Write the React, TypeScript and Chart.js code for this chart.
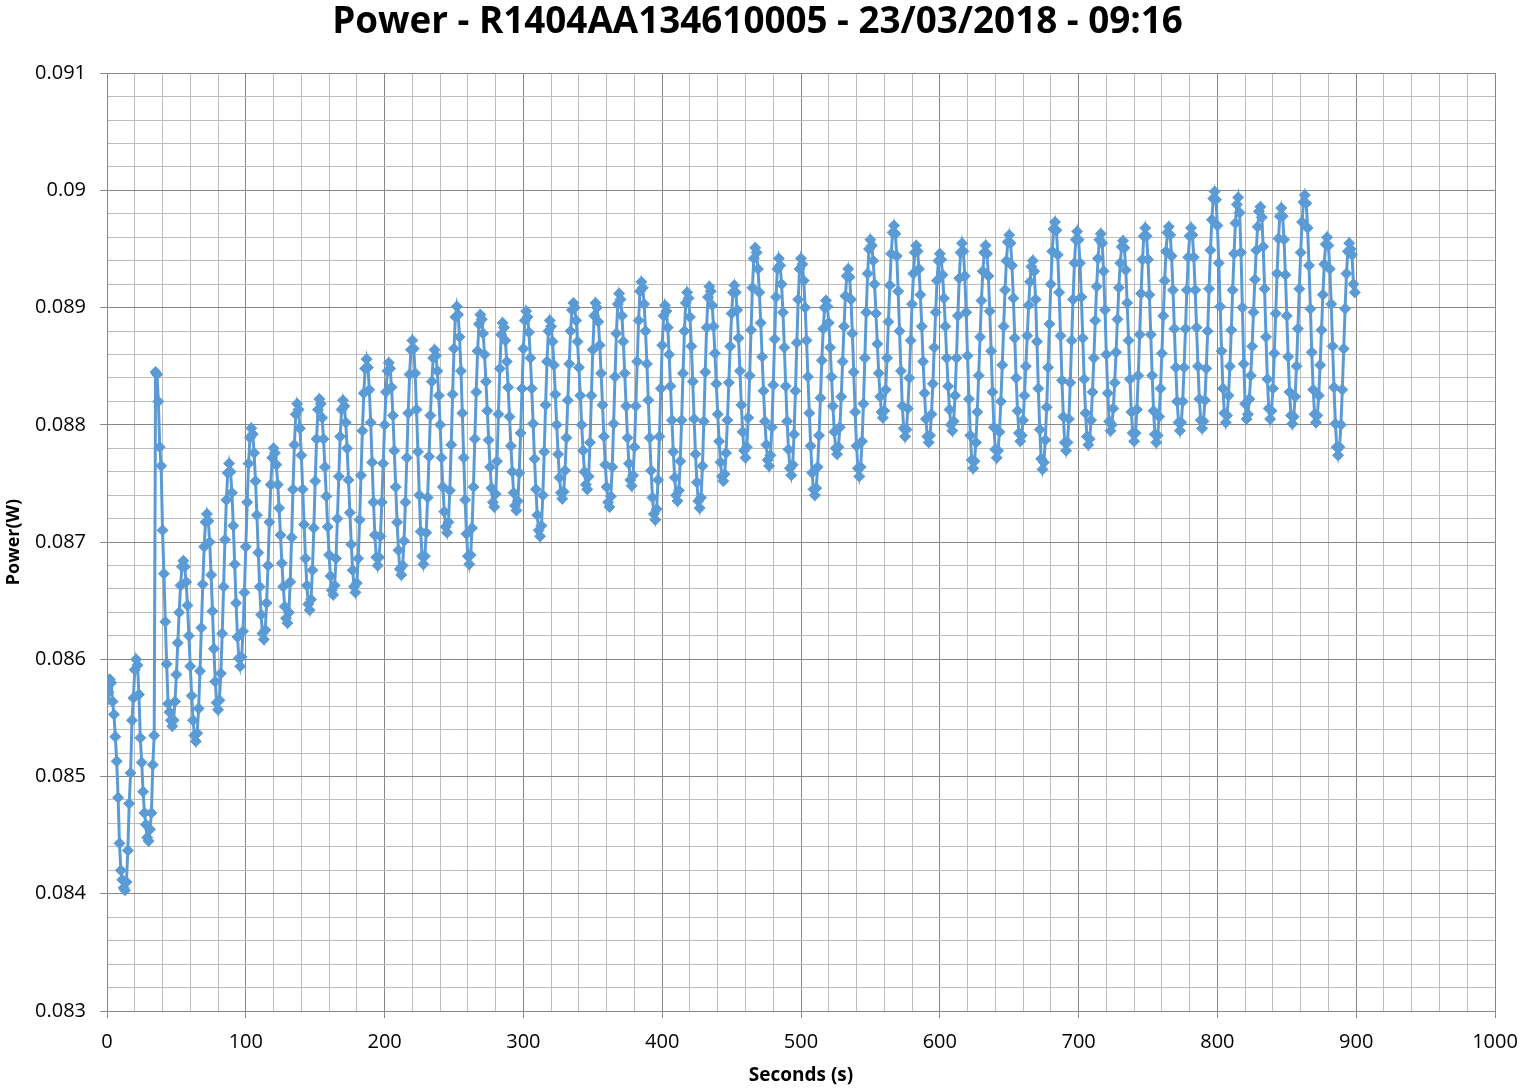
import { useEffect, useRef } from "react";
import { Chart, registerables } from "chart.js";

Chart.register(...registerables);

const TITLE = "Power - R1404AA134610005 - 23/03/2018 - 09:16";
const X_TITLE = "Seconds (s)";
const Y_TITLE = "Power(W)";

const X_MIN = 0;
const X_MAX = 1000;
const X_MAJOR = 100;
const X_MINOR = 20;
const Y_MIN = 0.083;
const Y_MAX = 0.091;
const Y_MAJOR = 0.001;
const Y_MINOR = 0.0002;

// one sample per second, values in mW
const POWER_MW = [
  85.65, 85.72, 85.83, 85.80, 85.64, 85.53, 85.34, 85.13, 84.82, 84.43, 84.20, 84.12, 84.05, 84.03, 84.10, 84.37,
  84.77, 85.03, 85.48, 85.67, 85.91, 86.00, 85.95, 85.70, 85.33, 85.12, 84.87, 84.69, 84.59, 84.48, 84.45, 84.55,
  84.69, 85.10, 85.35, 88.45, 88.43, 88.20, 87.81, 87.65, 87.10, 86.73, 86.32, 85.96, 85.62, 85.55, 85.48, 85.43,
  85.48, 85.64, 85.87, 86.14, 86.40, 86.63, 86.79, 86.84,
  86.79, 86.66, 86.46, 86.20, 85.94, 85.69, 85.48, 85.35, 85.30,
  85.37, 85.58, 85.90, 86.27, 86.64, 86.96, 87.17, 87.24,
  87.18, 87.00, 86.72, 86.41, 86.09, 85.81, 85.63, 85.57,
  85.65, 85.88, 86.22, 86.62, 87.02, 87.36, 87.59, 87.67,
  87.60, 87.42, 87.14, 86.81, 86.48, 86.19, 86.01, 85.94,
  86.02, 86.24, 86.57, 86.96, 87.34, 87.67, 87.89, 87.97,
  87.92, 87.76, 87.52, 87.23, 86.91, 86.62, 86.38, 86.22, 86.17,
  86.25, 86.48, 86.80, 87.17, 87.49, 87.72, 87.80,
  87.76, 87.66, 87.49, 87.29, 87.06, 86.82, 86.62, 86.45, 86.35, 86.31,
  86.40, 86.66, 87.04, 87.45, 87.83, 88.09, 88.18,
  88.13, 87.97, 87.74, 87.45, 87.15, 86.86, 86.63, 86.47, 86.42,
  86.51, 86.76, 87.12, 87.52, 87.88, 88.13, 88.22,
  88.18, 88.06, 87.88, 87.64, 87.39, 87.13, 86.89, 86.71, 86.59, 86.55,
  86.63, 86.86, 87.20, 87.56, 87.90, 88.13, 88.21,
  88.16, 88.02, 87.80, 87.53, 87.25, 86.98, 86.76, 86.62, 86.57,
  86.65, 86.86, 87.19, 87.57, 87.95, 88.27, 88.48, 88.56,
  88.49, 88.30, 88.02, 87.68, 87.34, 87.06, 86.87, 86.80,
  86.87, 87.05, 87.34, 87.67, 88.00, 88.28, 88.46, 88.53,
  88.48, 88.32, 88.08, 87.78, 87.47, 87.17, 86.93, 86.77, 86.72,
  86.80, 87.01, 87.34, 87.72, 88.10, 88.43, 88.64, 88.72,
  88.65, 88.44, 88.13, 87.77, 87.40, 87.09, 86.88, 86.81,
  86.88, 87.08, 87.38, 87.73, 88.08, 88.37, 88.57, 88.64,
  88.59, 88.46, 88.25, 88.00, 87.72, 87.47, 87.26, 87.13, 87.08,
  87.17, 87.44, 87.83, 88.26, 88.65, 88.92, 89.01,
  88.94, 88.75, 88.46, 88.10, 87.72, 87.36, 87.07, 86.88, 86.81,
  86.89, 87.12, 87.47, 87.88, 88.28, 88.63, 88.86, 88.94,
  88.90, 88.78, 88.60, 88.37, 88.12, 87.87, 87.64, 87.46, 87.34, 87.30,
  87.41, 87.69, 88.09, 88.48, 88.77, 88.87,
  88.83, 88.72, 88.54, 88.32, 88.07, 87.82, 87.60, 87.42, 87.31, 87.27,
  87.35, 87.59, 87.93, 88.31, 88.65, 88.89, 88.97,
  88.92, 88.79, 88.57, 88.31, 88.01, 87.71, 87.45, 87.23, 87.10, 87.05,
  87.14, 87.40, 87.77, 88.17, 88.54, 88.80, 88.89,
  88.84, 88.71, 88.51, 88.26, 88.00, 87.75, 87.55, 87.42, 87.37,
  87.43, 87.61, 87.89, 88.21, 88.52, 88.80, 88.98, 89.04,
  89.00, 88.89, 88.71, 88.49, 88.25, 88.00, 87.78, 87.60, 87.49, 87.45,
  87.56, 87.85, 88.25, 88.64, 88.93, 89.04,
  89.00, 88.88, 88.68, 88.44, 88.17, 87.90, 87.66, 87.47, 87.34, 87.30,
  87.39, 87.64, 88.01, 88.41, 88.78, 89.03, 89.12,
  89.07, 88.93, 88.71, 88.44, 88.16, 87.89, 87.67, 87.53, 87.48,
  87.57, 87.81, 88.16, 88.54, 88.89, 89.14, 89.22,
  89.17, 89.03, 88.80, 88.52, 88.21, 87.89, 87.61, 87.38, 87.24, 87.19,
  87.28, 87.53, 87.90, 88.31, 88.68, 88.93, 89.02,
  88.97, 88.83, 88.60, 88.33, 88.04, 87.77, 87.55, 87.40, 87.35,
  87.44, 87.69, 88.04, 88.44, 88.80, 89.04, 89.13,
  89.08, 88.92, 88.67, 88.37, 88.05, 87.75, 87.51, 87.35, 87.29,
  87.38, 87.65, 88.03, 88.45, 88.83, 89.09, 89.18,
  89.14, 89.02, 88.84, 88.61, 88.35, 88.09, 87.86, 87.68, 87.56, 87.52,
  87.58, 87.76, 88.04, 88.36, 88.67, 88.95, 89.13, 89.19,
  89.13, 88.98, 88.74, 88.46, 88.17, 87.94, 87.78, 87.72,
  87.81, 88.06, 88.42, 88.81, 89.17, 89.42, 89.51,
  89.47, 89.33, 89.13, 88.87, 88.58, 88.29, 88.03, 87.83, 87.70, 87.65,
  87.74, 87.98, 88.34, 88.73, 89.09, 89.33, 89.42,
  89.36, 89.20, 88.96, 88.66, 88.33, 88.03, 87.79, 87.63, 87.57,
  87.66, 87.92, 88.29, 88.70, 89.07, 89.33, 89.42,
  89.37, 89.23, 89.00, 88.72, 88.41, 88.10, 87.82, 87.59, 87.45, 87.40,
  87.46, 87.64, 87.91, 88.23, 88.55, 88.82, 89.00, 89.06,
  89.01, 88.87, 88.66, 88.41, 88.16, 87.94, 87.80, 87.75,
  87.81, 87.98, 88.24, 88.54, 88.84, 89.10, 89.27, 89.33,
  89.26, 89.07, 88.78, 88.45, 88.11, 87.82, 87.63, 87.56,
  87.64, 87.86, 88.18, 88.57, 88.96, 89.29, 89.50, 89.58,
  89.53, 89.40, 89.20, 88.95, 88.69, 88.44, 88.24, 88.11, 88.06,
  88.12, 88.30, 88.57, 88.88, 89.19, 89.46, 89.64, 89.70,
  89.63, 89.44, 89.14, 88.80, 88.46, 88.16, 87.97, 87.90,
  87.96, 88.14, 88.40, 88.72, 89.03, 89.29, 89.47, 89.53,
  89.48, 89.33, 89.11, 88.84, 88.54, 88.27, 88.05, 87.90, 87.85,
  87.91, 88.09, 88.35, 88.66, 88.96, 89.23, 89.40, 89.46,
  89.41, 89.28, 89.08, 88.84, 88.57, 88.33, 88.13, 88.00, 87.95,
  88.03, 88.25, 88.57, 88.93, 89.25, 89.47, 89.55,
  89.48, 89.27, 88.96, 88.59, 88.22, 87.91, 87.70, 87.63,
  87.69, 87.85, 88.11, 88.42, 88.75, 89.06, 89.31, 89.47, 89.53,
  89.46, 89.27, 88.97, 88.63, 88.28, 87.98, 87.79, 87.72,
  87.78, 87.94, 88.20, 88.51, 88.84, 89.15, 89.40, 89.56, 89.62,
  89.55, 89.36, 89.08, 88.74, 88.40, 88.12, 87.93, 87.86,
  87.91, 88.04, 88.25, 88.50, 88.76, 89.02, 89.22, 89.35, 89.40,
  89.31, 89.07, 88.71, 88.31, 87.96, 87.71, 87.62,
  87.68, 87.87, 88.15, 88.49, 88.86, 89.20, 89.48, 89.67, 89.73,
  89.66, 89.45, 89.13, 88.76, 88.38, 88.07, 87.85, 87.78,
  87.85, 88.05, 88.36, 88.72, 89.07, 89.38, 89.58, 89.65,
  89.58, 89.38, 89.09, 88.74, 88.39, 88.10, 87.90, 87.83,
  87.88, 88.04, 88.28, 88.57, 88.89, 89.18, 89.42, 89.58, 89.63,
  89.55, 89.31, 88.98, 88.60, 88.27, 88.03, 87.95,
  88.00, 88.14, 88.36, 88.62, 88.90, 89.17, 89.38, 89.52, 89.57,
  89.51, 89.32, 89.04, 88.72, 88.39, 88.11, 87.93, 87.86,
  87.93, 88.13, 88.42, 88.77, 89.12, 89.41, 89.61, 89.68,
  89.61, 89.41, 89.11, 88.77, 88.42, 88.12, 87.92, 87.85,
  87.91, 88.07, 88.31, 88.61, 88.93, 89.23, 89.48, 89.64, 89.69,
  89.62, 89.44, 89.15, 88.82, 88.49, 88.20, 88.02, 87.95,
  88.02, 88.20, 88.49, 88.82, 89.15, 89.43, 89.61, 89.68,
  89.62, 89.43, 89.15, 88.83, 88.50, 88.22, 88.04, 87.97,
  88.03, 88.21, 88.48, 88.80, 89.16, 89.49, 89.75, 89.93, 89.99,
  89.92, 89.70, 89.38, 89.01, 88.63, 88.31, 88.10, 88.02,
  88.08, 88.25, 88.50, 88.81, 89.15, 89.46, 89.72, 89.88, 89.94,
  89.81, 89.47, 89.00, 88.52, 88.18, 88.05,
  88.09, 88.22, 88.42, 88.67, 88.96, 89.24, 89.49, 89.69, 89.82, 89.86,
  89.77, 89.52, 89.16, 88.75, 88.39, 88.14, 88.05,
  88.12, 88.31, 88.61, 88.95, 89.29, 89.59, 89.78, 89.85,
  89.78, 89.58, 89.28, 88.93, 88.58, 88.28, 88.08, 88.01,
  88.07, 88.24, 88.50, 88.82, 89.16, 89.47, 89.73, 89.90, 89.96,
  89.89, 89.68, 89.36, 88.99, 88.62, 88.30, 88.09, 88.02,
  88.08, 88.25, 88.51, 88.81, 89.11, 89.37, 89.54, 89.60,
  89.53, 89.33, 89.03, 88.67, 88.32, 88.01, 87.81, 87.74,
  87.81, 88.00, 88.30, 88.65, 88.99, 89.29, 89.48, 89.55,
  89.50, 89.45, 89.20, 89.13,
];

const SAMPLE_STEP_S = 1;

const SERIES_COLOR = "#5B9BD5";
const GRID_MAJOR = "#878787";
const GRID_MINOR = "#bdbdbd";
const FONT = "'Open Sans', 'DejaVu Sans', sans-serif";

export default function App() {
  const canvasRef = useRef<HTMLCanvasElement | null>(null);

  useEffect(() => {
    const canvas = canvasRef.current;
    if (!canvas) return;
    const points = POWER_MW.map((v, i) => ({ x: i * SAMPLE_STEP_S, y: v / 1000 }));
    const isMajor = (v: number, step: number) => Math.abs(v / step - Math.round(v / step)) < 1e-6;

    const chart = new Chart(canvas, {
      type: "scatter",
      data: {
        datasets: [
          {
            data: points,
            showLine: true,
            borderColor: SERIES_COLOR,
            backgroundColor: SERIES_COLOR,
            borderWidth: 3,
            pointStyle: "rectRot",
            pointRadius: 5.5,
            pointBorderWidth: 1,
            pointBorderColor: SERIES_COLOR,
            pointBackgroundColor: SERIES_COLOR,
            tension: 0,
          },
        ],
      },
      options: {
        responsive: false,
        animation: false,
        devicePixelRatio: 1,
        layout: { padding: { left: 20, right: 26, top: 0, bottom: 0 } },
        plugins: {
          legend: { display: false },
          tooltip: { enabled: false },
          title: {
            display: true,
            text: TITLE,
            color: "#000",
            font: { family: FONT, size: 36.8, weight: "bold", lineHeight: 1.2 },
            padding: { top: 0, bottom: 29 },
          },
        },
        scales: {
          x: {
            type: "linear",
            min: X_MIN,
            max: X_MAX,
            ticks: {
              stepSize: X_MINOR,
              autoSkip: false,
              maxRotation: 0,
              minRotation: 0,
              padding: 12,
              color: "#000",
              font: { family: FONT, size: 20 },
              callback: (v: any) => (isMajor(Number(v), X_MAJOR) ? String(Math.round(Number(v))) : ""),
            },
            grid: {
              color: (ctx: any) => (ctx.tick && !isMajor(ctx.tick.value, X_MAJOR) ? GRID_MINOR : GRID_MAJOR),
              tickColor: (ctx: any) => (ctx.tick && isMajor(ctx.tick.value, X_MAJOR) ? GRID_MAJOR : "rgba(0,0,0,0)"),
              lineWidth: 1,
              drawTicks: true,
              tickLength: 7,
            },
            border: { color: GRID_MAJOR, width: 1 },
            title: {
              display: true,
              text: X_TITLE,
              color: "#000",
              font: { family: FONT, size: 19, weight: "bold", lineHeight: 1.2 },
              padding: { top: 0, bottom: 4 },
            },
            afterFit: (s: any) => {
              s.height = 80;
              s.paddingLeft = 0;
              s.paddingRight = 0;
            },
          },
          y: {
            type: "linear",
            min: Y_MIN,
            max: Y_MAX,
            ticks: {
              stepSize: Y_MINOR,
              autoSkip: false,
              padding: 14,
              color: "#000",
              font: { family: FONT, size: 20 },
              callback: (v: any) =>
                isMajor(Number(v), Y_MAJOR) ? String(Math.round(Number(v) * 1000) / 1000) : "",
            },
            grid: {
              color: (ctx: any) => (ctx.tick && !isMajor(ctx.tick.value, Y_MAJOR) ? GRID_MINOR : GRID_MAJOR),
              tickColor: (ctx: any) => (ctx.tick && isMajor(ctx.tick.value, Y_MAJOR) ? GRID_MAJOR : "rgba(0,0,0,0)"),
              lineWidth: 1,
              drawTicks: true,
              tickLength: 7,
            },
            border: { color: GRID_MAJOR, width: 1 },
            title: {
              display: true,
              text: Y_TITLE,
              color: "#000",
              font: { family: FONT, size: 18, weight: "bold", lineHeight: 1.2 },
              padding: { top: -17, bottom: 0 },
            },
            afterFit: (s: any) => {
              s.width = 87;
            },
          },
        },
      },
    } as any);

    return () => chart.destroy();
  }, []);

  return (
    <div style={{ position: "fixed", left: 0, top: 0, width: 1521, height: 1091, background: "#fff" }}>
      <canvas ref={canvasRef} width={1521} height={1091} style={{ display: "block" }} />
    </div>
  );
}
